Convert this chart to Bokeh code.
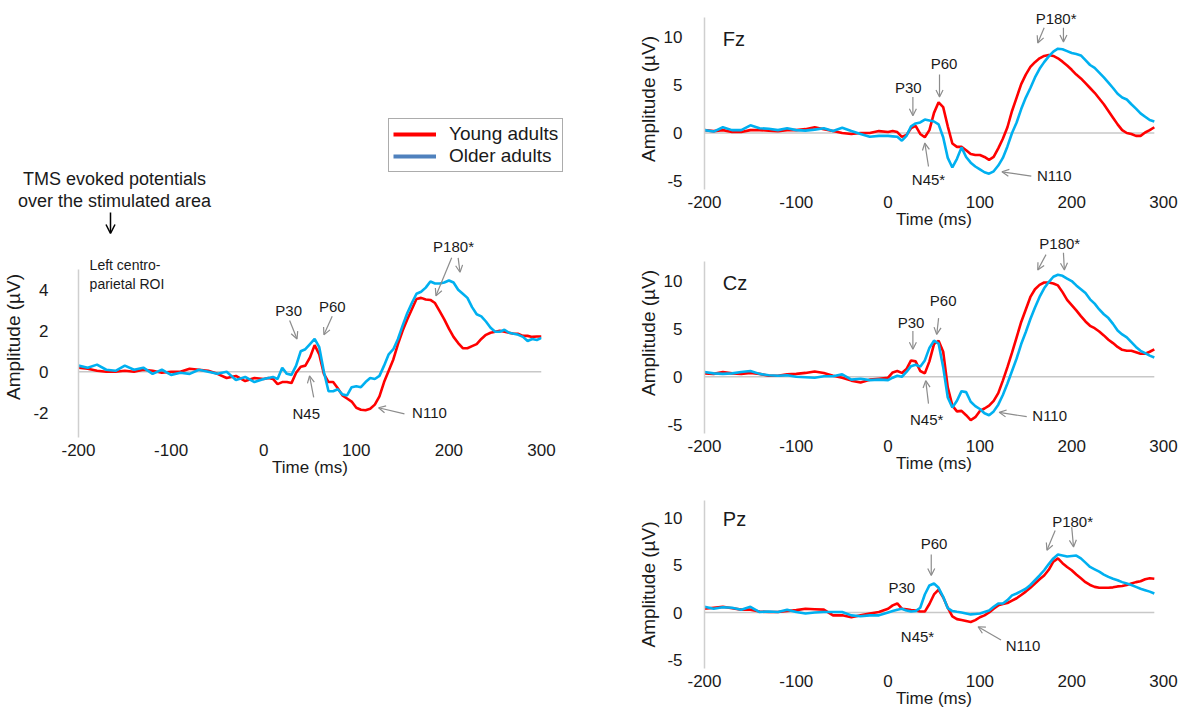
import numpy as np
from bokeh.plotting import figure
from bokeh.layouts import row, column
from bokeh.models import (Range1d, FixedTicker, Arrow, OpenHead, ColumnDataSource,
                          Legend, LegendItem)
from bokeh.embed import file_html
from bokeh.resources import INLINE
from bokeh.core.properties import value

FONT = "Liberation Sans"
RED = "#ff0000"
BLUE = "#00b0f0"
LEG_BLUE = "#4f81bd"
AXIS_GRAY = "#cfcfcf"
ZERO_GRAY = "#c8c8c8"
ARROW_GRAY = "#8c8c8c"
TXT = "#1a1a1a"

# ---------------- data ----------------
series_names = ["Young adults", "Older adults"]
x_ticks = [-200, -100, 0, 100, 200, 300]
left_y_ticks = [-2, 0, 2, 4]
mid_y_ticks = [-5, 0, 5, 10]

t_base = list(range(-200, 0, 10))
t_left = t_base + list(range(0, 301, 5))
t_mid = t_base + list(range(0, 291, 5))

# Left centro-parietal ROI
left_young = [0.2, 0.15, 0.05, 0.0, 0.0, 0.05, 0.0, 0.1, 0.05, -0.05,
              0.0, 0.0, 0.15, 0.1, 0.05, -0.1, -0.3, -0.2, -0.45, -0.3,
              -0.35, -0.3, -0.35, -0.6, -0.5, -0.5, -0.55, -0.05, 0.25, 0.3,
              0.7, 1.3, 0.85, -0.1, -0.5, -0.5, -0.8, -1.15, -1.3, -1.45,
              -1.75, -1.85, -1.87, -1.8, -1.6, -1.2, -0.5, 0.05, 0.6, 1.35,
              2.0, 2.55, 3.05, 3.55, 3.6, 3.52, 3.5, 3.35, 2.95, 2.55,
              2.1, 1.7, 1.4, 1.15, 1.15, 1.25, 1.35, 1.6, 1.8, 1.9,
              1.95, 2.0, 1.95, 1.9, 1.85, 1.85, 1.75, 1.75, 1.7, 1.72,
              1.72]
left_older = [0.3, 0.2, 0.35, 0.1, 0.05, 0.3, 0.1, 0.2, -0.1, 0.1,
              -0.15, -0.05, -0.1, 0.1, 0.0, -0.1, 0.0, -0.4, -0.25, -0.5,
              -0.35, -0.3, -0.25, -0.35, 0.2, -0.1, -0.15, 0.3, 1.0, 1.1,
              1.35, 1.6, 1.2, 0.0, -0.95, -0.95, -0.85, -1.1, -1.15, -0.75,
              -0.7, -0.75, -0.5, -0.3, -0.35, -0.2, 0.3, 0.85, 1.1, 1.6,
              2.25, 2.85, 3.35, 3.8, 3.9, 4.1, 4.4, 4.3, 4.3, 4.35,
              4.45, 4.35, 4.0, 3.8, 3.6, 3.15, 2.8, 2.7, 2.45, 2.15,
              1.95, 1.95, 2.05, 1.9, 1.85, 1.8, 1.7, 1.5, 1.6, 1.55,
              1.65]

# Fz
fz_young = [0.3, 0.2, 0.3, 0.1, 0.1, 0.3, 0.3, 0.25, 0.2, 0.3,
            0.3, 0.4, 0.6, 0.4, 0.2, 0.0, -0.1, 0.0, 0.0, 0.2,
            0.1, 0.2, 0.1, -0.4, -0.2, 0.5, 0.75, -0.1, -0.45, 0.3,
            2.1, 3.2, 2.7, 0.7, -1.1, -1.45, -1.45, -1.8, -2.2, -2.3,
            -2.3, -2.5, -2.8, -2.5, -1.6, -0.6, 0.6, 2.3, 3.7, 5.1,
            6.1, 6.9, 7.4, 7.8, 8.05, 8.15, 8.05, 7.8, 7.45, 7.05,
            6.6, 6.1, 5.7, 5.2, 4.7, 4.2, 3.6, 3.0, 2.3, 1.6,
            0.9, 0.3, 0.0, -0.1, -0.3, -0.3, 0.05, 0.3, 0.6]
fz_older = [0.3, 0.15, 0.6, 0.3, 0.3, 0.8, 0.5, 0.45, 0.3, 0.5,
            0.3, 0.25, 0.35, 0.5, 0.2, 0.55, 0.2, -0.1, -0.4, -0.3,
            -0.3, -0.35, -0.4, -0.8, -0.3, 0.7, 1.0, 1.1, 1.4, 1.3,
            1.2, 0.9, -0.45, -2.6, -3.6, -2.7, -1.5, -2.5, -3.1, -3.5,
            -3.8, -4.1, -4.25, -4.0, -3.4, -2.6, -1.4, 0.0, 1.1, 2.5,
            3.7, 4.7, 5.8, 6.7, 7.4, 8.0, 8.5, 8.8, 8.75, 8.55,
            8.35, 8.25, 8.1, 7.6, 7.1, 6.8, 6.3, 5.8, 5.25, 4.7,
            4.1, 3.7, 3.5, 3.0, 2.55, 2.05, 1.7, 1.35, 1.2]

# Cz
cz_young = [0.35, 0.3, 0.5, 0.35, 0.3, 0.4, 0.3, 0.1, 0.1, 0.25,
            0.3, 0.4, 0.55, 0.4, 0.1, -0.1, -0.4, -0.6, -0.3, -0.2,
            -0.1, 0.45, 0.6, 0.4, 0.8, 1.7, 1.6, 0.6, 0.35, 1.6,
            3.4, 3.75, 2.6, -1.1, -3.0, -3.6, -3.55, -4.0, -4.5, -4.2,
            -3.55, -3.3, -3.0, -2.5, -1.7, -0.4, 1.0, 2.5, 4.1, 5.7,
            7.0, 8.3, 9.1, 9.55, 9.8, 9.8, 9.7, 9.5, 8.8, 8.0,
            7.45, 6.9, 6.3, 5.75, 5.3, 5.05, 4.7, 4.3, 3.85, 3.5,
            3.1, 2.8, 2.7, 2.7, 2.55, 2.4, 2.4, 2.6, 2.85]
cz_older = [0.5, 0.35, 0.3, 0.35, 0.5, 0.6, 0.3, 0.15, 0.1, 0.15,
            0.0, -0.05, -0.1, 0.05, 0.05, 0.25, -0.3, -0.2, -0.35, -0.3,
            -0.35, -0.1, 0.1, 0.0, 0.5, 1.1, 1.25, 1.05, 1.7, 3.0,
            3.75, 3.45, 1.0, -2.15, -3.2, -2.5, -1.5, -1.6, -2.6, -3.05,
            -3.35, -3.8, -4.0, -3.6, -2.9, -1.9, -0.7, 0.6, 1.9, 3.4,
            4.65, 6.0, 7.2, 8.3, 9.2, 9.85, 10.4, 10.6, 10.5, 10.2,
            9.95, 9.5, 9.1, 8.7, 8.05, 7.6, 7.0, 6.5, 6.1, 5.5,
            4.8, 4.4, 4.1, 3.6, 3.1, 2.7, 2.45, 2.2, 2.0]

# Pz
pz_young = [0.4, 0.5, 0.6, 0.45, 0.3, 0.3, 0.1, 0.05, 0.05, 0.15,
            0.25, 0.4, 0.35, 0.3, -0.3, -0.3, -0.5, -0.3, -0.1, 0.05,
            0.4, 0.75, 0.95, 0.4, 0.35, 0.25, 0.2, 0.1, 0.1, 0.9,
            1.9, 2.4, 1.6, 0.5, -0.4, -0.7, -0.8, -0.9, -1.0, -0.8,
            -0.5, -0.3, 0.0, 0.4, 0.75, 0.9, 1.0, 1.25, 1.5, 1.85,
            2.2, 2.6, 3.05, 3.5, 3.9, 4.5, 5.35, 5.7, 5.2, 4.8,
            4.45, 4.0, 3.6, 3.2, 2.9, 2.7, 2.6, 2.6, 2.6, 2.65,
            2.75, 2.8, 2.9, 3.05, 3.2, 3.3, 3.5, 3.6, 3.55]
pz_older = [0.6, 0.4, 0.55, 0.5, 0.3, 0.6, 0.05, 0.1, 0.05, 0.3,
            0.05, -0.1, 0.0, 0.05, 0.05, 0.05, -0.3, -0.4, -0.3, -0.3,
            0.0, 0.15, 0.3, 0.4, 0.2, 0.1, 0.15, 0.5, 1.9, 2.85,
            3.05, 2.6, 1.65, 0.45, 0.15, 0.07, 0.0, -0.1, -0.2, -0.15,
            -0.1, 0.05, 0.2, 0.6, 0.95, 0.95, 1.3, 1.8, 2.0, 2.25,
            2.5, 2.9, 3.4, 3.9, 4.45, 5.1, 5.7, 6.1, 6.0, 5.9,
            5.95, 6.0, 5.7, 5.25, 4.8, 4.55, 4.3, 4.0, 3.75, 3.55,
            3.4, 3.2, 3.05, 2.9, 2.7, 2.5, 2.35, 2.2, 2.0]

# peak annotations (label, text x/y) and arrows (start -> end), in data units
left_lab = ["P30", "P60", "N45", "N110", "P180*"]
left_lab_x = [27, 74, 46, 179, 205]
left_lab_y = [3.0, 3.2, -2.05, -2.0, 6.1]
left_arr = dict(x0=[28, 74, 54, 152, 203, 210], y0=[2.5, 2.7, -1.25, -2.05, 5.55, 5.55],
                x1=[36, 65, 49.5, 124, 186, 212], y1=[1.6, 1.8, -0.2, -1.75, 3.7, 4.85])

fz_lab = ["P30", "P60", "N45*", "N110", "P180*"]
fz_lab_x = [22, 61, 44, 181, 183]
fz_lab_y = [4.8, 7.3, -4.9, -4.4, 12.0]
fz_arr = dict(x0=[27, 56, 44, 156, 170, 191], y0=[3.75, 6.1, -3.5, -4.5, 11.0, 11.0],
              x1=[27, 56, 40, 124, 163, 191], y1=[1.8, 3.75, -1.05, -4.05, 9.4, 9.5])

cz_lab = ["P30", "P60", "N45*", "N110", "P180*"]
cz_lab_x = [25, 60, 42, 176, 187]
cz_lab_y = [5.6, 7.9, -4.4, -4.0, 13.9]
cz_arr = dict(x0=[27, 55, 44, 151, 172, 191], y0=[4.75, 6.1, -2.8, -4.15, 12.7, 12.9],
              x1=[27, 53, 41, 121, 163, 192], y1=[2.85, 4.4, -0.4, -3.7, 11.1, 11.1])

pz_lab = ["P30", "P60", "N45*", "N110", "P180*"]
pz_lab_x = [15, 50, 32, 147, 201]
pz_lab_y = [2.6, 7.3, -2.55, -3.45, 9.55]
pz_arr = dict(x0=[47, 123, 182, 200], y0=[6.1, -2.9, 8.65, 9.0],
              x1=[47, 98, 173, 202], y1=[3.9, -1.5, 6.55, 6.9])

panel_names = ["Fz", "Cz", "Pz"]
left_title = ["Left centro-", "parietal ROI"]
header_lines = ["TMS evoked potentials", "over the stimulated area"]


def make_panel(t, young, older, yr, ybounds, yticks, frame_w, frame_h,
               b_left, b_right, b_top, b_bottom, tick_standoff, ylab_standoff):
    p = figure(frame_width=frame_w, frame_height=frame_h,
               x_range=Range1d(-200, 300), y_range=Range1d(*yr),
               toolbar_location=None, output_backend="svg",
               min_border_left=b_left, min_border_right=b_right,
               min_border_top=b_top, min_border_bottom=b_bottom)
    p.frame_align = False
    p.outline_line_color = None
    p.grid.visible = False
    p.background_fill_color = "white"
    p.border_fill_color = "white"

    xa = p.xaxis[0]
    xa.ticker = FixedTicker(ticks=x_ticks)
    xa.major_label_overrides = {v: str(v) for v in x_ticks}
    xa.axis_line_color = None
    xa.major_tick_line_color = None
    xa.minor_tick_line_color = None
    xa.major_label_text_font = FONT
    xa.major_label_text_font_size = "17px"
    xa.major_label_text_color = TXT
    xa.major_label_standoff = 0
    xa.axis_label = "Time (ms)"
    xa.axis_label_text_font = FONT
    xa.axis_label_text_font_size = "17px"
    xa.axis_label_text_font_style = "normal"
    xa.axis_label_text_color = TXT
    xa.axis_label_standoff = -1

    ya = p.yaxis[0]
    ya.ticker = FixedTicker(ticks=yticks)
    ya.major_label_overrides = {v: str(v) for v in yticks}
    ya.bounds = ybounds
    ya.axis_line_color = AXIS_GRAY
    ya.axis_line_width = 1.5
    ya.major_tick_line_color = None
    ya.minor_tick_line_color = None
    ya.major_label_text_font = FONT
    ya.major_label_text_font_size = "17px"
    ya.major_label_text_color = TXT
    ya.major_label_standoff = tick_standoff
    ya.axis_label = "Amplitude (µV)"
    ya.axis_label_text_font = FONT
    ya.axis_label_text_font_size = "19px"
    ya.axis_label_text_font_style = "normal"
    ya.axis_label_text_color = TXT
    ya.axis_label_standoff = ylab_standoff

    p.line([t[0], t[-1]], [0, 0], line_color=ZERO_GRAY, line_width=1.5)
    p.line(t, young, line_color=RED, line_width=2.6)
    p.line(t, older, line_color=BLUE, line_width=2.6)
    return p


def add_peaks(p, labels, lx, ly, arr):
    src = ColumnDataSource(arr)
    p.add_layout(Arrow(end=OpenHead(size=7, line_color=ARROW_GRAY, line_width=1.2),
                       source=src, x_start="x0", y_start="y0", x_end="x1", y_end="y1",
                       line_color=ARROW_GRAY, line_width=1.2))
    p.text(x=lx, y=ly, text=labels, text_font=value(FONT), text_font_size="15px",
           text_align="center", text_baseline="middle", text_color=TXT)


# ---------------- header (title text + legend), pixel space ----------------
HW, HH = 612, 236
hdr = figure(width=HW, height=HH, x_range=Range1d(0, HW), y_range=Range1d(HH, 0),
             toolbar_location=None, output_backend="svg",
             x_axis_location=None, y_axis_location=None, min_border=0)
hdr.frame_align = False
hdr.outline_line_color = None
hdr.grid.visible = False
hdr.text(x=[114, 114], y=[178, 200], text=header_lines, text_font=value(FONT),
         text_font_size="18px", text_align="center", text_baseline="middle",
         text_color=TXT)
tms_src = ColumnDataSource(dict(x0=[110], y0=[212], x1=[110], y1=[233]))
hdr.add_layout(Arrow(end=OpenHead(size=9, line_color="black", line_width=1.5),
                     source=tms_src, x_start="x0", y_start="y0", x_end="x1", y_end="y1",
                     line_color="black", line_width=1.5))
# legend proxies (no visible data, only provide the legend swatches)
nan_pair = np.array([np.nan, np.nan])
r_y = hdr.line(x=nan_pair, y=nan_pair, line_color=RED, line_width=4)
r_o = hdr.line(x=nan_pair, y=nan_pair, line_color=LEG_BLUE, line_width=4)
leg = Legend(items=[LegendItem(label=series_names[0], renderers=[r_y]),
                    LegendItem(label=series_names[1], renderers=[r_o])],
             location=(388, HH - 172), orientation="vertical")
leg.label_text_font = FONT
leg.label_text_font_size = "19px"
leg.label_text_color = TXT
leg.glyph_width = 43
leg.glyph_height = 18
leg.label_height = 18
leg.label_standoff = 13
leg.padding = 4
leg.spacing = 0
leg.margin = 0
leg.border_line_color = "#595959"
leg.border_line_width = 1.5
leg.background_fill_alpha = 1.0
hdr.add_layout(leg)

# ---------------- left panel ----------------
pl = make_panel(t_left, left_young, left_older, yr=(-3.2, 6.59), ybounds=(-3.2, 5.0),
                yticks=left_y_ticks, frame_w=463, frame_h=201, b_left=69, b_right=80,
                b_top=0, b_bottom=43, tick_standoff=24, ylab_standoff=6)
add_peaks(pl, left_lab, left_lab_x, left_lab_y, left_arr)
pl.text(x=[-188, -188], y=[5.2, 4.3], text=left_title, text_font=value(FONT),
        text_font_size="14px", text_align="left", text_baseline="middle", text_color=TXT)

# ---------------- right panels ----------------
common = dict(yticks=mid_y_ticks, frame_w=459, b_left=83, b_right=18,
              tick_standoff=16, ylab_standoff=2)
pf = make_panel(t_mid, fz_young, fz_older, yr=(-5.9, 13.0), ybounds=(-5.9, 12.1),
                frame_h=181, b_top=8, b_bottom=43, **common)
pc = make_panel(t_mid, cz_young, cz_older, yr=(-5.9, 15.0), ybounds=(-5.9, 12.0),
                frame_h=201, b_top=0, b_bottom=43, **common)
pp = make_panel(t_mid, pz_young, pz_older, yr=(-5.9, 11.8), ybounds=(-5.9, 11.8),
                frame_h=168, b_top=24, b_bottom=43, **common)

for p, name, lab, lx, ly, arr in [(pf, panel_names[0], fz_lab, fz_lab_x, fz_lab_y, fz_arr),
                                  (pc, panel_names[1], cz_lab, cz_lab_x, cz_lab_y, cz_arr),
                                  (pp, panel_names[2], pz_lab, pz_lab_x, pz_lab_y, pz_arr)]:
    add_peaks(p, lab, lx, ly, arr)
    p.text(x=[-180], y=[9.8], text=[name], text_font=value(FONT), text_font_size="20px",
           text_align="left", text_baseline="middle", text_color=TXT)

layout = row(column(hdr, pl), column(pf, pc, pp))
open("out.html", "w").write(file_html(layout, INLINE))
